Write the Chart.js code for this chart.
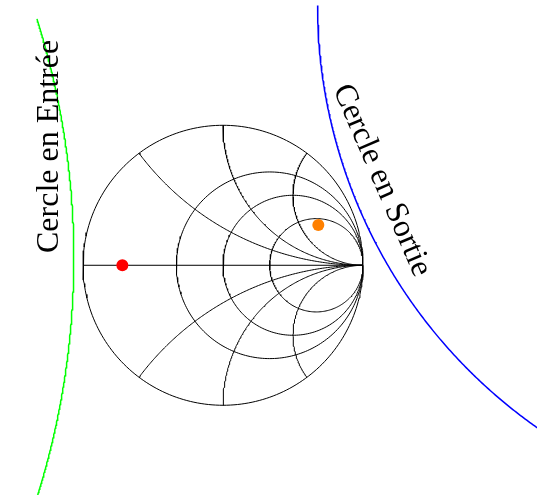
<!DOCTYPE html>
<html><head><meta charset="utf-8">
<script src="https://cdn.jsdelivr.net/npm/chart.js@4"></script>
<style>html,body{margin:0;padding:0;background:#fff}canvas{display:block}</style>
</head><body>
<canvas id="c" width="537" height="495"></canvas>
<script>
// Smith chart grid values (normalised impedance)
const resistanceValues = [0, 0.5, 1, 2];
const reactanceValues = [0.5, 1, 2];
// Stability circles in the reflection-coefficient plane
const stabilityLabels = ['Cercle en Entrée', 'Cercle en Sortie'];
const stabilityCenterRe = [-6.746, 4.361];
const stabilityCenterIm = [0.052, 1.856];
const stabilityRadius = [5.68, 3.685];
const stabilityArcStartDeg = [-17.5, 180];
const stabilityArcEndDeg = [17.5, 245];
const stabilityColors = ['#00ff00', '#0000ff'];
// Label anchors (reflection-coefficient plane) and rotation
const labelRe = [-1.176, 1.078];
const labelIm = [0.849, 0.582];
const labelAngleDeg = [-90, 66.6];
// Marked reflection coefficients
const pointNames = ['Gamma S', 'Gamma L'];
const pointRe = [-0.719, 0.681];
const pointIm = [0, 0.288];
const pointColors = ['#ff0000', '#ff8000'];

const X_MIN = -1.593, X_MAX = 2.243, Y_MIN = -1.641, Y_MAX = 1.895;

function arc(cx, cy, r, a0, a1, n) {
  const pts = [];
  for (let i = 0; i <= n; i++) {
    const a = (a0 + (a1 - a0) * i / n) * Math.PI / 180;
    pts.push({x: cx + r * Math.cos(a), y: cy + r * Math.sin(a)});
  }
  return pts;
}

const lineDs = (data, color, width) => ({
  data, showLine: true, borderColor: color, borderWidth: width,
  pointRadius: 0, pointHoverRadius: 0, fill: false, tension: 0
});

const datasets = [];
// points on top
pointNames.forEach((n, i) => datasets.push({
  label: n, data: [{x: pointRe[i], y: pointIm[i]}], showLine: false,
  pointRadius: 6, pointHoverRadius: 6, pointBorderWidth: 0,
  pointBackgroundColor: pointColors[i], backgroundColor: pointColors[i], borderColor: pointColors[i]
}));
// resistance circles
resistanceValues.forEach(r => {
  datasets.push(lineDs(arc(r / (1 + r), 0, 1 / (1 + r), 0, 360, 240), '#000', 1));
});
// real axis
datasets.push(lineDs([{x: -1, y: 0}, {x: 1, y: 0}], '#000', 1));
// reactance arcs
reactanceValues.forEach(x => {
  const start = Math.atan2((x * x - 1) / x, -2) * 180 / Math.PI;
  const a0 = start < 0 ? start + 360 : start;
  datasets.push(lineDs(arc(1, 1 / x, 1 / x, a0, 270, 160), '#000', 1));
  datasets.push(lineDs(arc(1, -1 / x, 1 / x, 360 - a0, 90, 160), '#000', 1));
});
// stability circles
stabilityLabels.forEach((l, i) => {
  datasets.push(lineDs(arc(stabilityCenterRe[i], stabilityCenterIm[i], stabilityRadius[i],
    stabilityArcStartDeg[i], stabilityArcEndDeg[i], 300), stabilityColors[i], 1.5));
});

const labelPlugin = {
  id: 'labels',
  afterDraw(chart) {
    const ctx = chart.ctx, xs = chart.scales.x, ys = chart.scales.y;
    ctx.save();
    ctx.fillStyle = '#000';
    ctx.font = '32px "Liberation Serif", "Times New Roman", serif';
    ctx.textAlign = 'center';
    ctx.textBaseline = 'alphabetic';
    stabilityLabels.forEach((t, i) => {
      ctx.save();
      ctx.translate(xs.getPixelForValue(labelRe[i]), ys.getPixelForValue(labelIm[i]));
      ctx.rotate(labelAngleDeg[i] * Math.PI / 180);
      ctx.fillText(t, 0, 0);
      ctx.restore();
    });
    ctx.restore();
  }
};

new Chart(document.getElementById('c'), {
  type: 'scatter',
  data: {datasets},
  options: {
    responsive: false, animation: false, devicePixelRatio: 1,
    layout: {padding: 0, autoPadding: false},
    plugins: {legend: {display: false}, tooltip: {enabled: false}},
    events: [],
    scales: {
      x: {type: 'linear', min: X_MIN, max: X_MAX, display: false},
      y: {type: 'linear', min: Y_MIN, max: Y_MAX, display: false}
    }
  },
  plugins: [labelPlugin]
});
</script>
</body></html>
